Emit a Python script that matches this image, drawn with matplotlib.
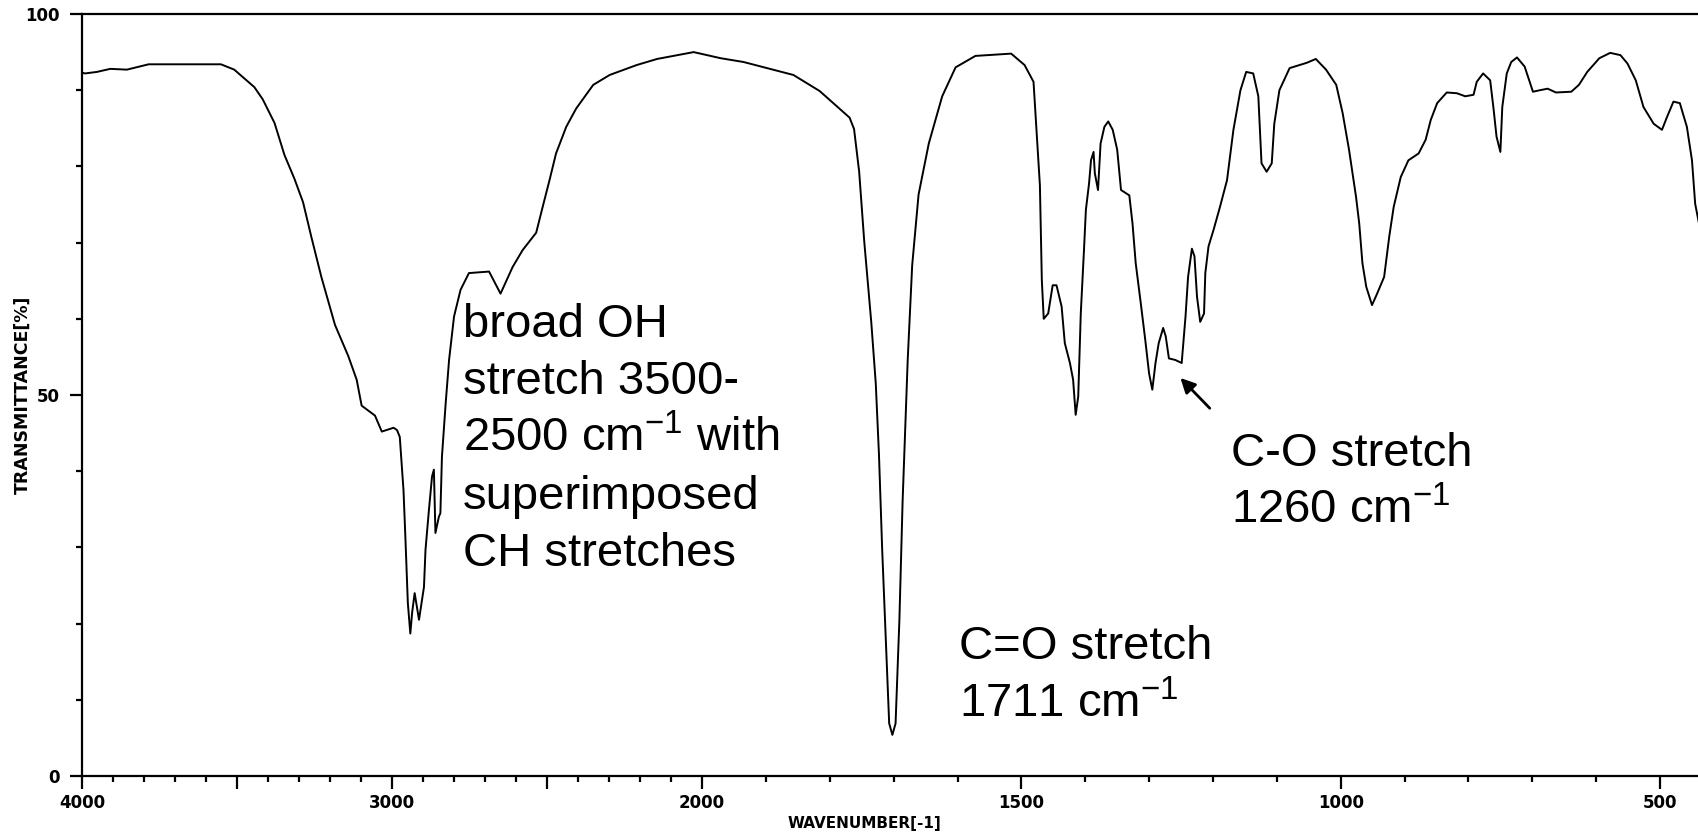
import numpy as np
import matplotlib
matplotlib.use('Agg')
import matplotlib.pyplot as plt

# IR spectrum: wavenumber (cm-1) and transmittance (%)
wavenumber = [4000, 3990, 3952, 3909, 3855, 3785, 3552, 3509, 3444, 3417, 3379, 3347, 3315, 3287,
              3260, 3228, 3184, 3141, 3114, 3098, 3055, 3033, 2995, 2984, 2975, 2963, 2957, 2949,
              2941, 2935, 2927, 2913, 2897, 2892, 2881, 2871, 2865, 2860, 2849, 2844, 2839, 2827,
              2816, 2800, 2779, 2752, 2687, 2650, 2611, 2579, 2535, 2514, 2492, 2471, 2438, 2406,
              2351, 2298, 2211, 2145, 2027, 1971, 1935, 1857, 1816, 1769, 1762, 1754, 1746, 1735,
              1728, 1723, 1718, 1712, 1707, 1702, 1697, 1691, 1686, 1678, 1671, 1661, 1645, 1624,
              1603, 1572, 1516, 1495, 1481, 1476, 1471, 1468, 1465, 1458, 1451, 1445, 1437, 1432,
              1424, 1419, 1415, 1411, 1407, 1402, 1399, 1394, 1391, 1387, 1385, 1380, 1376, 1370,
              1364, 1357, 1350, 1344, 1331, 1326, 1321, 1313, 1306, 1300, 1295, 1290, 1285, 1278,
              1274, 1269, 1259, 1249, 1243, 1239, 1233, 1229, 1225, 1220, 1214, 1212, 1207, 1199,
              1189, 1178, 1168, 1157, 1148, 1137, 1129, 1124, 1116, 1108, 1104, 1096, 1080, 1053,
              1039, 1023, 1007, 997, 987, 976, 971, 966, 960, 951, 943, 932, 924, 917, 906, 894,
              878, 867, 859, 849, 834, 818, 805, 792, 787, 777, 766, 761, 756, 750, 747, 740, 733,
              724, 712, 699, 688, 676, 663, 639, 627, 614, 595, 578, 562, 551, 538, 526, 510, 497,
              489, 479, 469, 458, 450, 445, 439]
transmittance = [92.3, 92.2, 92.4, 92.8, 92.7, 93.4, 93.4, 92.7, 90.4, 88.8, 85.7, 81.5, 78.4, 75.3,
                 70.7, 65.5, 59.2, 55.1, 52.0, 48.6, 47.3, 45.2, 45.7, 45.4, 44.5, 37.5, 31.4, 22.7,
                 18.7, 21.5, 24.0, 20.5, 24.8, 29.7, 34.9, 39.3, 40.2, 31.9, 34.0, 34.5, 41.9, 48.9,
                 54.6, 60.3, 63.8, 66.0, 66.2, 63.3, 66.8, 69.0, 71.3, 74.7, 78.2, 81.7, 85.2, 87.6,
                 90.7, 92.0, 93.3, 94.1, 95.0, 94.2, 93.7, 92.0, 89.9, 86.4, 84.9, 79.3, 70.1, 59.5,
                 51.5, 42.2, 29.8, 17.4, 6.9, 5.4, 6.9, 20.5, 36.0, 54.6, 67.0, 76.3, 83.0, 89.2,
                 93.0, 94.5, 94.8, 93.3, 91.1, 84.3, 77.5, 65.1, 60.0, 60.7, 64.4, 64.4, 61.6, 56.8,
                 54.2, 52.0, 47.4, 49.8, 60.7, 69.0, 74.3, 77.8, 80.8, 81.9, 79.1, 76.9, 83.0, 85.2,
                 85.9, 84.8, 82.2, 76.9, 76.2, 72.5, 67.3, 62.0, 57.2, 52.8, 50.7, 54.2, 56.8, 58.8,
                 57.7, 54.8, 54.6, 54.2, 60.3, 65.5, 69.2, 68.2, 62.9, 59.6, 60.7, 66.0, 69.5, 71.7,
                 74.7, 78.2, 84.8, 90.0, 92.4, 92.2, 89.2, 80.4, 79.3, 80.4, 85.6, 90.0, 92.9, 93.6,
                 94.1, 92.7, 90.7, 87.0, 82.2, 76.0, 72.5, 67.3, 64.2, 61.8, 63.3, 65.5, 70.8, 74.7, 78.6, 80.8,
                 81.7, 83.5, 86.1, 88.3, 89.7, 89.6, 89.2, 89.4, 91.1, 92.2, 91.3, 87.8, 83.9, 81.9, 87.8, 92.2, 93.7,
                 94.3, 93.1, 89.8, 90.0, 90.2, 89.7, 89.8, 90.7, 92.4, 94.2, 94.9, 94.6, 93.5, 91.3, 87.8, 85.6, 84.8,
                 86.5, 88.5, 88.3, 85.2, 80.8, 75.1, 72.5]

major_ticks = [4000, 3500, 3000, 2500, 2000, 1500, 1000, 500]
major_labels = ['4000', '', '3000', '', '2000', '1500', '1000', '500']
minor_ticks = [w for w in range(4000, 499, -100) if w not in major_ticks]

# below 2000 cm-1 the chart is drawn about twice as wide per unit
R = 2.06


def fwd(w):
    w = np.asarray(w, dtype=float)
    return np.where(w >= 2000, R + (w - 2000) / 2000.0, R * w / 2000.0)


def inv(u):
    u = np.asarray(u, dtype=float)
    return np.where(u >= R, 2000 + 2000 * (u - R), 2000 * u / R)


plt.rcParams['mathtext.fontset'] = 'custom'
plt.rcParams['mathtext.rm'] = 'Liberation Sans'
plt.rcParams['mathtext.it'] = 'Liberation Sans'
plt.rcParams['mathtext.bf'] = 'Liberation Sans'

fig = plt.figure(figsize=(16.99, 8.32), dpi=100)
ax = fig.add_axes([82 / 1699, 56 / 832, 1 - 82 / 1699, 762 / 832])

ax.plot(wavenumber, transmittance, color='black', lw=1.4)
ax.set_xscale('function', functions=(fwd, inv))
ax.set_xlim(4000, 439)
ax.set_ylim(0, 100)

ax.spines['right'].set_visible(False)
for s in ['left', 'bottom', 'top']:
    ax.spines[s].set_linewidth(1.6)

ax.set_xticks(major_ticks, labels=major_labels)
ax.set_xticks(minor_ticks, minor=True)
ax.set_yticks([0, 50, 100], labels=['0', '50', '100'])
ax.set_yticks(range(10, 100, 10), minor=True)
ax.tick_params(which='major', direction='out', length=9, width=1.6, labelsize=12)
ax.tick_params(which='minor', direction='out', length=4, width=1.6)
ax.tick_params(axis='x', which='major', pad=4)
ax.tick_params(axis='y', which='major', pad=7)
for lab in ax.get_xticklabels() + ax.get_yticklabels():
    lab.set_fontweight('bold')

ax.set_xlabel('WAVENUMBER[-1]', fontsize=11, fontweight='bold')
ax.xaxis.set_label_coords(0.484, -0.053)
ax.set_ylabel('TRANSMITTANCE[%]', fontsize=12.5, fontweight='bold')
ax.yaxis.set_label_coords(-0.031, 0.5)

# annotations
ann = dict(fontsize=34, family='Liberation Sans', color='black', va='baseline', ha='left')
oh_lines = ['broad OH', 'stretch 3500-', '2500 cm$^{-1}$ with', 'superimposed', 'CH stretches']
for i, line in enumerate(oh_lines):
    ax.text(2771, 57.6 - 7.5 * i, line, **ann)

ax.text(1597, 15.4, 'C=O stretch', **ann)
ax.text(1597, 7.7, '1711 cm$^{-1}$', **ann)

ax.text(1172, 40.7, 'C-O stretch', **ann)
ax.text(1172, 33.2, '1260 cm$^{-1}$', **ann)

ax.annotate('', xy=(1254, 52.5), xytext=(1202, 48.0),
            arrowprops=dict(arrowstyle='-|>', color='black', lw=2, mutation_scale=22))

fig.savefig('out.png', dpi=100)
